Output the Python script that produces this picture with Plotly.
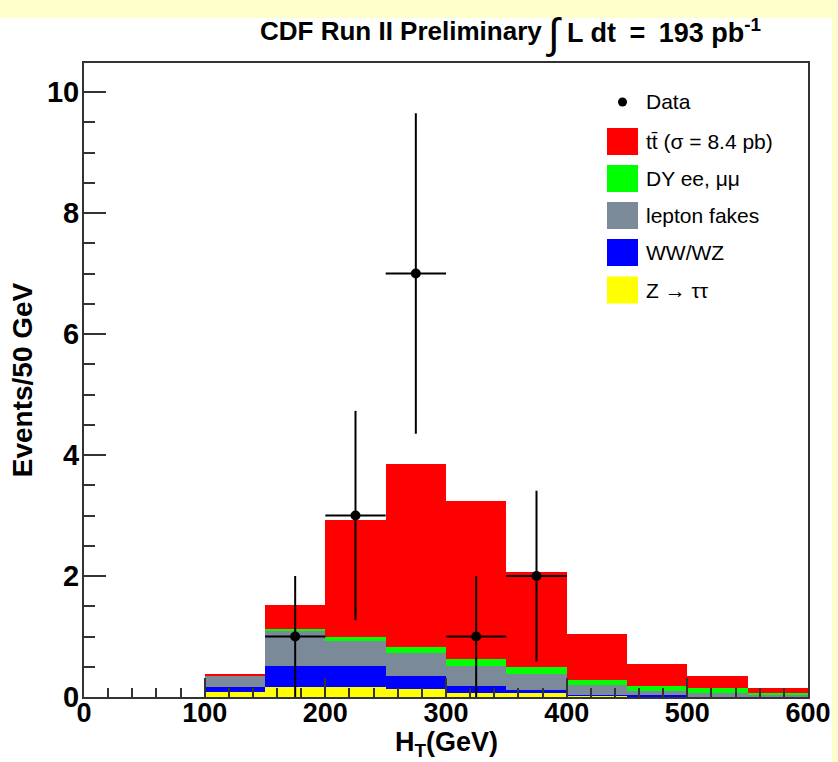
import plotly.graph_objects as go

# ---------------- data ----------------
bin_centers = [125, 175, 225, 275, 325, 375, 425, 475, 525, 575]
bin_widths = [50, 50, 50, 50, 50, 50, 50, 50, 50, 50]

z_tautau = [0.09, 0.17, 0.17, 0.13, 0.065, 0.06, 0.02, 0.005, 0.0, 0.0]
ww_wz = [0.07, 0.35, 0.35, 0.21, 0.12, 0.055, 0.02, 0.03, 0.005, 0.0]
lepton_fakes = [0.19, 0.58, 0.41, 0.39, 0.33, 0.27, 0.16, 0.07, 0.055, 0.035]
dy_ee_mumu = [0.0, 0.03, 0.06, 0.10, 0.11, 0.105, 0.08, 0.075, 0.09, 0.03]
ttbar = [0.02, 0.39, 1.94, 3.02, 2.61, 1.57, 0.76, 0.36, 0.19, 0.08]

data_x = [175, 225, 275, 325, 375]
data_y = [1, 3, 7, 1, 2]
data_yerr = [1.0, 1.73, 2.65, 1.0, 1.41]
data_xerr = [25, 25, 25, 25, 25]

x_ticks = [0, 100, 200, 300, 400, 500, 600]
y_ticks = [0, 2, 4, 6, 8, 10]

series = [
    ("Z \u2192 \u03c4\u03c4", z_tautau, "#FFFF00"),
    ("WW/WZ", ww_wz, "#0000FF"),
    ("lepton fakes", lepton_fakes, "#7B8A98"),
    ("DY ee, \u03bc\u03bc", dy_ee_mumu, "#00FF00"),
    ("tt\u0304 (\u03c3 = 8.4 pb)", ttbar, "#FF0000"),
]

FONT = "Liberation Sans, Arial, sans-serif"
AXC = "#333333"

fig = go.Figure()
for name, vals, color in series:
    fig.add_bar(x=bin_centers, y=vals, width=bin_widths, name=name,
                marker=dict(color=color, line=dict(width=0)), showlegend=False)

fig.add_scatter(x=data_x, y=data_y, mode="markers", name="Data",
                marker=dict(color="black", size=10),
                error_y=dict(type="data", array=data_yerr, color="black", thickness=2, width=0),
                error_x=dict(type="data", array=data_xerr, color="black", thickness=2, width=0),
                showlegend=False)

# plot area geometry in pixels
L, R, T, B = 84, 808, 63, 697
W, H = R - L, B - T

def px(x):
    return (x - L) / W

def py(y):
    return (B - y) / H

shapes = []
annotations = []

# slide background strips
shapes.append(dict(type="rect", xref="paper", yref="paper", x0=-0.2, x1=1.2,
                   y0=py(18), y1=py(-5), fillcolor="#FFFFCC", line=dict(width=0), layer="below"))
shapes.append(dict(type="rect", xref="paper", yref="paper", x0=px(832), x1=px(845),
                   y0=py(770), y1=py(-5), fillcolor="#FFFFCC", line=dict(width=0), layer="below"))

# legend (manual, to reproduce ROOT style boxes)
legend_rows = [
    ("Data", None, 102),
    ("tt\u0304 (\u03c3 = 8.4 pb)", "#FF0000", 141.5),
    ("DY ee, \u03bc\u03bc", "#00FF00", 178.5),
    ("lepton fakes", "#7B8A98", 215.5),
    ("WW/WZ", "#0000FF", 252.5),
    ("Z \u2192 \u03c4\u03c4", "#FFFF00", 290),
]
for text, color, yc in legend_rows:
    if color is None:
        shapes.append(dict(type="circle", xref="paper", yref="paper",
                           x0=px(618), x1=px(627), y0=py(yc + 4.5), y1=py(yc - 4.5),
                           fillcolor="black", line=dict(width=0)))
    else:
        shapes.append(dict(type="rect", xref="paper", yref="paper",
                           x0=px(607), x1=px(638), y0=py(yc + 13.5), y1=py(yc - 13.5),
                           fillcolor=color, line=dict(width=0)))
    annotations.append(dict(xref="paper", yref="paper", x=px(644), y=py(yc),
                            xanchor="left", yanchor="middle", text=text, showarrow=False,
                            font=dict(family=FONT, size=21, color="black")))

# header
annotations.append(dict(xref="paper", yref="paper", x=px(544), y=py(31),
                        xanchor="right", yanchor="middle", showarrow=False,
                        text="CDF Run II Preliminary",
                        font=dict(family=FONT, size=26, color="black", weight="bold")))
annotations.append(dict(xref="paper", yref="paper", x=px(554), y=py(33),
                        xanchor="center", yanchor="middle", showarrow=False,
                        text="\u222b",
                        font=dict(family=FONT, size=42, color="black")))
annotations.append(dict(xref="paper", yref="paper", x=px(565), y=py(31),
                        xanchor="left", yanchor="middle", showarrow=False,
                        text="L dt\u2002=\u2002193 pb<sup>-1</sup>",
                        font=dict(family=FONT, size=27, color="black", weight="bold")))

# x-axis title placed explicitly below the tick labels
annotations.append(dict(xref="paper", yref="paper", x=0.5, y=py(762),
                        xanchor="center", yanchor="bottom", showarrow=False, borderpad=0,
                        text="H<sub>T</sub>(GeV)",
                        font=dict(family=FONT, size=27, color="black", weight="bold")))

fig.update_layout(
    width=838, height=762,
    margin=dict(l=L, r=838 - R, t=T, b=762 - B, autoexpand=False),
    paper_bgcolor="white", plot_bgcolor="white",
    barmode="stack", bargap=0,
    showlegend=False,
    shapes=shapes, annotations=annotations,
    font=dict(family=FONT, color="black"),
    xaxis=dict(
        range=[0, 600], tickvals=x_ticks, ticktext=[str(v) for v in x_ticks],
        ticks="inside", ticklen=19, tickwidth=2, tickcolor=AXC,
        minor=dict(dtick=20, tick0=0, ticks="inside", ticklen=9, tickwidth=1.5, tickcolor=AXC),
        showline=True, linecolor=AXC, linewidth=2, mirror=True,
        showgrid=False, zeroline=False,
        ticklabelstandoff=-9,
        tickfont=dict(family=FONT, size=27, color="black", weight="bold"),
        automargin=False,
    ),
    yaxis=dict(
        range=[0, 10.48], tickvals=y_ticks, ticktext=[str(v) for v in y_ticks],
        ticks="inside", ticklen=22, tickwidth=2, tickcolor=AXC,
        minor=dict(dtick=0.5, tick0=0, ticks="inside", ticklen=11, tickwidth=1.5, tickcolor=AXC),
        showline=True, linecolor=AXC, linewidth=2, mirror=True,
        showgrid=False, zeroline=False,
        ticklabelstandoff=-3,
        tickfont=dict(family=FONT, size=29, color="black", weight="bold"),
        title=dict(text="Events/50 GeV", standoff=6,
                   font=dict(family=FONT, size=28, color="black", weight="bold")),
        automargin=False,
    ),
)

fig.write_html("out.html")
